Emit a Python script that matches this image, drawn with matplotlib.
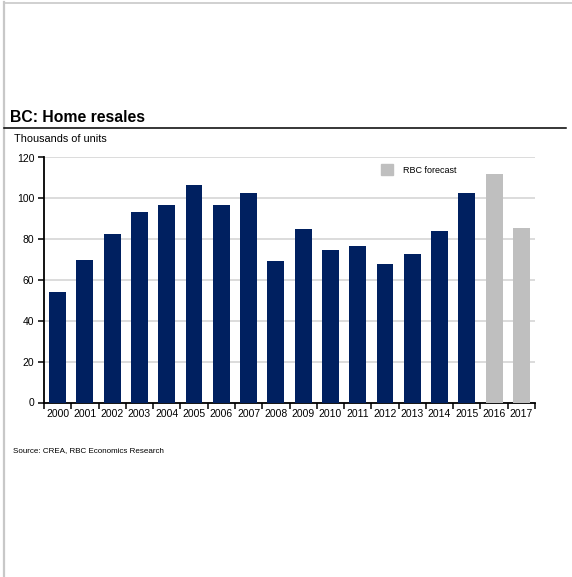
import matplotlib
matplotlib.use("Agg")
import matplotlib.pyplot as plt
from matplotlib.lines import Line2D
from matplotlib.patches import Patch
import numpy as np

# data (thousands of units)
years = ["2000", "2001", "2002", "2003", "2004", "2005", "2006", "2007", "2008",
         "2009", "2010", "2011", "2012", "2013", "2014", "2015", "2016", "2017"]
resales = [54.3, 69.6, 82.7, 93.1, 96.6, 106.4, 96.6, 102.7, 69.3,
           85.1, 74.8, 76.8, 67.7, 72.9, 84.1, 102.4, 111.9, 85.3]
is_forecast = [False] * 16 + [True, True]

NAVY = "#002060"
FORECAST_GREY = "#bfbfbf"
GRID = "#d9d9d9"
FRAME = "#c8c8c8"

plt.rcParams["font.family"] = ["Liberation Sans", "DejaVu Sans"]

W, H = 572, 577
fig = plt.figure(figsize=(W / 100, H / 100), dpi=100)

# page frame (left and top edges only)
fig.add_artist(Line2D([4 / W, 4 / W], [0, 1 - 2 / H], color=FRAME, lw=1.6))
fig.add_artist(Line2D([4 / W, 1], [1 - 2.5 / H, 1 - 2.5 / H], color=FRAME, lw=1.2))

# title and rule
fig.text(10 / W, 1 - 117 / H, "BC: Home resales", fontsize=11.3, fontweight="bold",
         va="center", ha="left")
fig.add_artist(Line2D([4 / W, 566 / W], [1 - 128 / H, 1 - 128 / H], color="black", lw=1.1))
fig.text(14 / W, 1 - 139.5 / H, "Thousands of units", fontsize=7.8, va="center", ha="left")
fig.text(13 / W, 1 - 451 / H, "Source: CREA, RBC Economics Research", fontsize=5.8,
         va="center", ha="left")

ax = fig.add_axes([44 / W, (H - 402.5) / H, (535 - 44) / W, (402.5 - 157.5) / H])

x = np.arange(len(years))
colors = [FORECAST_GREY if f else NAVY for f in is_forecast]
ax.bar(x, resales, width=0.62, color=colors, edgecolor="none", zorder=3)

ax.set_xlim(-0.5, len(years) - 0.5)
ax.set_ylim(0, 120)
ax.set_yticks(np.arange(0, 121, 20))
ax.yaxis.grid(True, color=GRID, lw=1.3)
ax.set_axisbelow(True)

# year labels centred under bars, ticks on category boundaries
ax.set_xticks(x)
ax.set_xticklabels(years, fontsize=7.5)
ax.tick_params(axis="x", which="major", length=0, pad=5)
ax.set_xticks(np.arange(-0.5, len(years), 1), minor=True)
ax.tick_params(axis="x", which="minor", length=4, width=1.1, direction="out")
ax.tick_params(axis="y", length=4, width=1.1, labelsize=7.5, pad=3)

for side in ["top", "right"]:
    ax.spines[side].set_visible(False)
ax.spines["left"].set_linewidth(1.3)
ax.spines["bottom"].set_linewidth(1.3)

leg = ax.legend(handles=[Patch(color=FORECAST_GREY, label="RBC forecast")],
                loc="upper left", bbox_to_anchor=((381 - 44) / 491, (402.5 - 164.5) / 245),
                frameon=False, fontsize=6.5, handlelength=1.35, handleheight=1.35,
                handletextpad=1.1, borderpad=0, borderaxespad=0)

fig.savefig("out.png", dpi=100)
